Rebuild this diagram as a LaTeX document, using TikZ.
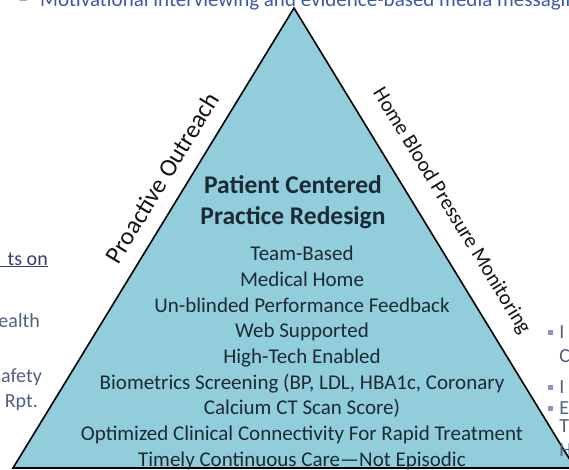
\documentclass[tikz,border=0pt]{standalone}
\usepackage{fontspec}
\setmainfont{Carlito}
\usepackage{xcolor}
\usetikzlibrary{positioning}

\definecolor{triFill}{RGB}{146,205,220}
\definecolor{bodyText}{RGB}{28,42,52}
\definecolor{labelText}{RGB}{20,20,20}
\definecolor{topBlue}{RGB}{60,90,170}
\definecolor{headText}{RGB}{50,60,120}
\definecolor{sideText}{RGB}{80,95,130}
\definecolor{bulletBlue}{RGB}{135,150,185}

\begin{document}
\begin{tikzpicture}[x=1pt, y=-1pt,
    tri/.style={draw=black, line width=1.6pt, fill=triFill, line join=miter},
    heading/.style={inner sep=0pt, text height=22pt, text depth=9pt, text=bodyText, font=\fontsize{25.5}{30}\selectfont\bfseries},
    item/.style={inner sep=0pt, text height=18pt, text depth=7.25pt, text=bodyText, font=\fontsize{21}{25}\selectfont},
    edgelabel/.style={sloped, inner xsep=0pt, text=labelText, font=\fontsize{25}{30}\selectfont},
    cutleft/.style={inner sep=0pt, anchor=base east, text=sideText, font=\fontsize{20}{24}\selectfont},
    cutright/.style={inner sep=0pt, anchor=base west, text=sideText, font=\fontsize{20}{24}\selectfont},
    sq/.style={fill=bulletBlue, inner sep=0pt, minimum size=5pt}]
  \useasboundingbox (0,0) rectangle (569,469);
  \clip (0,0) rectangle (569,469);

  % pyramid
  \coordinate (apex) at (294,8);
  \coordinate (baseL) at (13,468);
  \coordinate (baseR) at (575,468);
  \draw[tri] (baseL) -- (apex) -- (baseR) -- cycle;

  % labels along the two sides
  \path (baseL) -- (apex) node[edgelabel, pos=0.604, above, inner ysep=15pt] (outreach) {Proactive Outreach};
  \path (apex) -- (baseR) node[edgelabel, pos=0.474, above, inner ysep=19pt, font=\fontsize{21}{25}\selectfont] (homebp) {Home Blood Pressure Monitoring};

  % title and list inside
  \node[heading, anchor=base] (patient) at (293,193) {Patient Centered};
  \node[heading, below=0pt of patient] (practice) {Practice Redesign};
  \node[item, below=9pt of practice, xshift=9pt] (team) {Team-Based};
  \node[item, below=0pt of team] (medhome) {Medical Home};
  \node[item, below=0pt of medhome] (feedback) {Un-blinded Performance Feedback};
  \node[item, below=0pt of feedback] (web) {Web Supported};
  \node[item, below=0pt of web] (hightech) {High-Tech Enabled};
  \node[item, below=0pt of hightech] (biometrics) {Biometrics Screening (BP, LDL, HBA1c, Coronary};
  \node[item, below=0pt of biometrics] (calcium) {Calcium CT Scan Score)};
  \node[item, below=0pt of calcium] (connect) {Optimized Clinical Connectivity For Rapid Treatment};
  \node[item, below=0pt of connect] (timely) {Timely Continuous Care---Not Episodic};

  % cut-off text at the top
  \node[inner sep=0pt, anchor=base west, text=bulletBlue, font=\fontsize{21}{25}\selectfont] (topdash) at (18,6) {–};
  \node[inner sep=0pt, anchor=base west, text=topBlue, font=\fontsize{21}{25}\selectfont] (motiv) at (40,6) {Motivational interviewing and evidence-based media messaging};

  % cut-off text on the left
  \node[cutleft, text=headText] (effects) at (48,265) {\underline{\hspace*{20pt}ts on}};
  \node[cutleft] (health) at (40,327) {ealth};
  \node[cutleft] (safety) at (42,382) {afety};
  \node[cutleft] (rpt) at (38,407) {Rpt.};

  % cut-off bullets on the right
  \node[sq] (sqA) at (550.5,332) {};
  \node[cutright, right=6pt of sqA, anchor=west] (itemA) {I};
  \node[cutright] (itemAb) at (itemA.base west |- 0,362) {C};
  \node[sq] (sqB) at (550.5,387) {};
  \node[cutright, right=6pt of sqB, anchor=west] (itemB) {I};
  \node[sq] (sqC) at (550.5,408) {};
  \node[cutright, right=6pt of sqC, anchor=west] (itemC) {E};
  \node[cutright] (itemCb) at (itemC.base west |- 0,432) {T};
  \node[cutright] (itemCc) at (itemC.base west |- 0,456) {H};
\end{tikzpicture}
\end{document}
